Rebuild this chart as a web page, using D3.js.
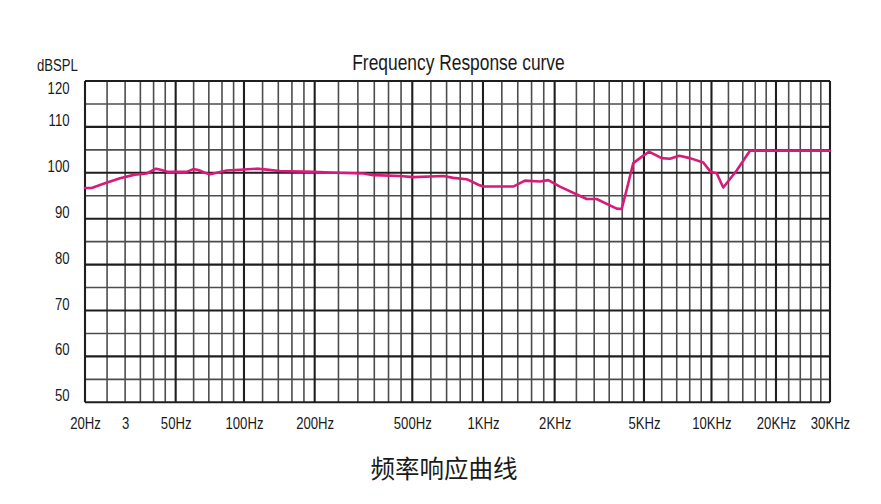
<!DOCTYPE html>
<html>
<head>
<meta charset="utf-8">
<script src="https://cdn.jsdelivr.net/npm/d3@7/dist/d3.min.js"></script>
<style>
  html, body { margin: 0; padding: 0; background: #fff; }
  svg { display: block; }
  .lbl { font-family: "Liberation Sans", Arial, sans-serif; fill: #1a1a1a; }
</style>
</head>
<body>
<svg id="chart" width="881" height="504"></svg>
<script>
// ---------------- data ----------------
const titleText = "Frequency Response curve";
const yAxisTitle = "dBSPL";
const bottomTitle = "频率响应曲线";

// measured response (Hz, dB SPL)
const freqs = [20, 21.4, 24.1, 28.5, 33.1, 37.3, 39.2, 41, 43.4, 46.4,
  55.9, 59.8, 62.9, 67.3, 70.8, 75.8, 83.9, 96,
  115, 125, 142, 197,
  246, 316, 347, 446,
  505, 678, 748, 852, 880, 955,
  1003, 1340, 1500, 1735, 1880,
  2112, 2777, 3077, 3778, 3976, 4186, 4480, 4798,
  5263, 5996, 6530, 7185, 8016, 9192, 9917,
  10575, 11350, 13110, 15120, 30000];
const spl = [96.7, 96.7, 97.6, 98.8, 99.6, 99.85, 100.4, 100.9, 100.6, 100.2,
  100.2, 100.8, 100.6, 100.0, 99.7, 100.0, 100.5, 100.65,
  100.9, 100.7, 100.4, 100.2,
  100.0, 99.85, 99.5, 99.3,
  99.06, 99.3, 98.9, 98.6, 98.3, 97.4,
  97.0, 97.0, 98.3, 98.1, 98.4,
  97.0, 94.3, 94.3, 92.2, 92.1, 96.3, 102.1, 103.2,
  104.6, 103.2, 103.05, 103.7, 103.2, 102.25, 100.2,
  99.9, 96.8, 100.5, 104.8, 104.8];

// x tick labels
const xTickValues = [20, 30, 50, 100, 200, 500, 1000, 2000, 5000, 10000, 20000, 30000];
const xTickLabels = ["20Hz", "3", "50Hz", "100Hz", "200Hz", "500Hz", "1KHz", "2KHz", "5KHz", "10KHz", "20KHz", "30KHz"];
const xMajor = [20, 50, 100, 200, 500, 1000, 2000, 5000, 10000, 20000, 30000];
// chart-paper frequency grid
const xGrid = [20, 25, 30, 35, 40, 45, 50, 60, 70, 80, 90, 100, 120, 140, 160, 180, 200,
  250, 300, 350, 400, 450, 500, 600, 700, 800, 900, 1000, 1200, 1400, 1600, 1800, 2000,
  2500, 3000, 3500, 4000, 4500, 5000, 6000, 7000, 8000, 9000, 10000,
  12000, 14000, 16000, 18000, 20000, 22000, 24000, 26000, 28000, 30000];
// y ticks
const yTickValues = [50, 60, 70, 80, 90, 100, 110, 120];
const yGrid = [50, 55, 60, 65, 70, 75, 80, 85, 90, 95, 100, 105, 110, 115, 120];

// ---------------- layout ----------------
const W = 881, H = 504;
const pLeft = 85, pRight = 830, pTop = 81, pBottom = 402.3;
const NARROW = 0.82; // condensed lettering
// the printed chart paper is not a perfectly uniform log grid: calibrate per labelled step
const xAnchorF = [20, 50, 100, 200, 500, 1000, 2000, 5000, 10000, 20000, 30000];
const xAnchorFrac = [0, 0.1217, 0.2134, 0.3083, 0.4393, 0.5342, 0.6304, 0.7503, 0.8409, 0.9275, 1];

const x = d3.scaleLog()
  .domain(xAnchorF)
  .range(xAnchorFrac.map(f => pLeft + f * (pRight - pLeft)));
const y = d3.scaleLinear().domain([50, 120]).range([pBottom, pTop]);

const svg = d3.select("#chart");
svg.append("rect").attr("width", W).attr("height", H).attr("fill", "#fff");

// grid - minor first
const g = svg.append("g");
g.selectAll("line.hminor").data(yGrid.filter(v => v % 10 !== 0)).join("line")
  .attr("x1", pLeft).attr("x2", pRight)
  .attr("y1", d => y(d)).attr("y2", d => y(d))
  .attr("stroke", "#4d4d4d").attr("stroke-width", 1.6);
g.selectAll("line.vminor").data(xGrid.filter(v => !xMajor.includes(v))).join("line")
  .attr("y1", pTop).attr("y2", pBottom)
  .attr("x1", d => x(d)).attr("x2", d => x(d))
  .attr("stroke", "#4d4d4d").attr("stroke-width", 1.6);
g.selectAll("line.hmajor").data(yGrid.filter(v => v % 10 === 0)).join("line")
  .attr("x1", pLeft).attr("x2", pRight)
  .attr("y1", d => y(d)).attr("y2", d => y(d))
  .attr("stroke", "#1e1e1e").attr("stroke-width", 2.1);
g.selectAll("line.vmajor").data(xMajor).join("line")
  .attr("y1", pTop).attr("y2", pBottom)
  .attr("x1", d => x(d)).attr("x2", d => x(d))
  .attr("stroke", "#1e1e1e").attr("stroke-width", 2.1);

// curve
const pts = freqs.map((f, i) => [f, spl[i]]);
svg.append("path")
  .datum(pts)
  .attr("fill", "none")
  .attr("stroke", "#d81b78")
  .attr("stroke-width", 2.6)
  .attr("stroke-linejoin", "round")
  .attr("stroke-linecap", "round")
  .attr("d", d3.line().x(d => x(d[0])).y(d => y(d[1])).curve(d3.curveLinear));

// x axis labels
const xAxis = d3.axisBottom(x)
  .tickValues(xTickValues)
  .tickFormat((d, i) => xTickLabels[i])
  .tickSize(0);
const xa = svg.append("g").attr("transform", `translate(0,${pBottom})`).call(xAxis);
xa.select(".domain").remove();
xa.selectAll("text")
  .attr("class", "lbl")
  .attr("x", 0)
  .attr("y", 27).attr("dy", null)
  .style("font-size", "16px");

// y axis labels
const yAxis = d3.axisLeft(y).tickValues(yTickValues).tickSize(0);
const ya = svg.append("g").attr("transform", `translate(${pLeft},0)`).call(yAxis);
ya.select(".domain").remove();
ya.selectAll("text")
  .attr("class", "lbl")
  .attr("x", -15.5)
  .attr("dy", null)
  .attr("y", d => Math.max(y(d) - 1.5, pTop + 12) - y(d))
  .style("font-size", "16px");
svg.selectAll(".tick text").attr("fill", "#1a1a1a");

// titles
svg.append("text").attr("class", "lbl")
  .attr("x", (pLeft + pRight) / 2 + 1).attr("y", 70)
  .attr("text-anchor", "middle").style("font-size", "21.2px")
  .text(titleText);
svg.append("text").attr("class", "lbl")
  .attr("x", 57.5).attr("y", 71)
  .attr("text-anchor", "middle").style("font-size", "16px")
  .text(yAxisTitle);

// condense latin lettering horizontally, keeping anchor positions
svg.selectAll("text.lbl").each(function () {
  const t = d3.select(this);
  const xv = +t.attr("x") || 0;
  t.attr("x", xv / NARROW).attr("transform", `scale(${NARROW},1)`);
});

svg.append("text")
  .attr("x", 444).attr("y", 467)
  .attr("text-anchor", "middle").attr("dominant-baseline", "central")
  .style("font-family", "'Noto Sans CJK SC', sans-serif")
  .style("font-size", "24.5px").attr("fill", "#1a1a1a")
  .text(bottomTitle);
</script>
</body>
</html>
